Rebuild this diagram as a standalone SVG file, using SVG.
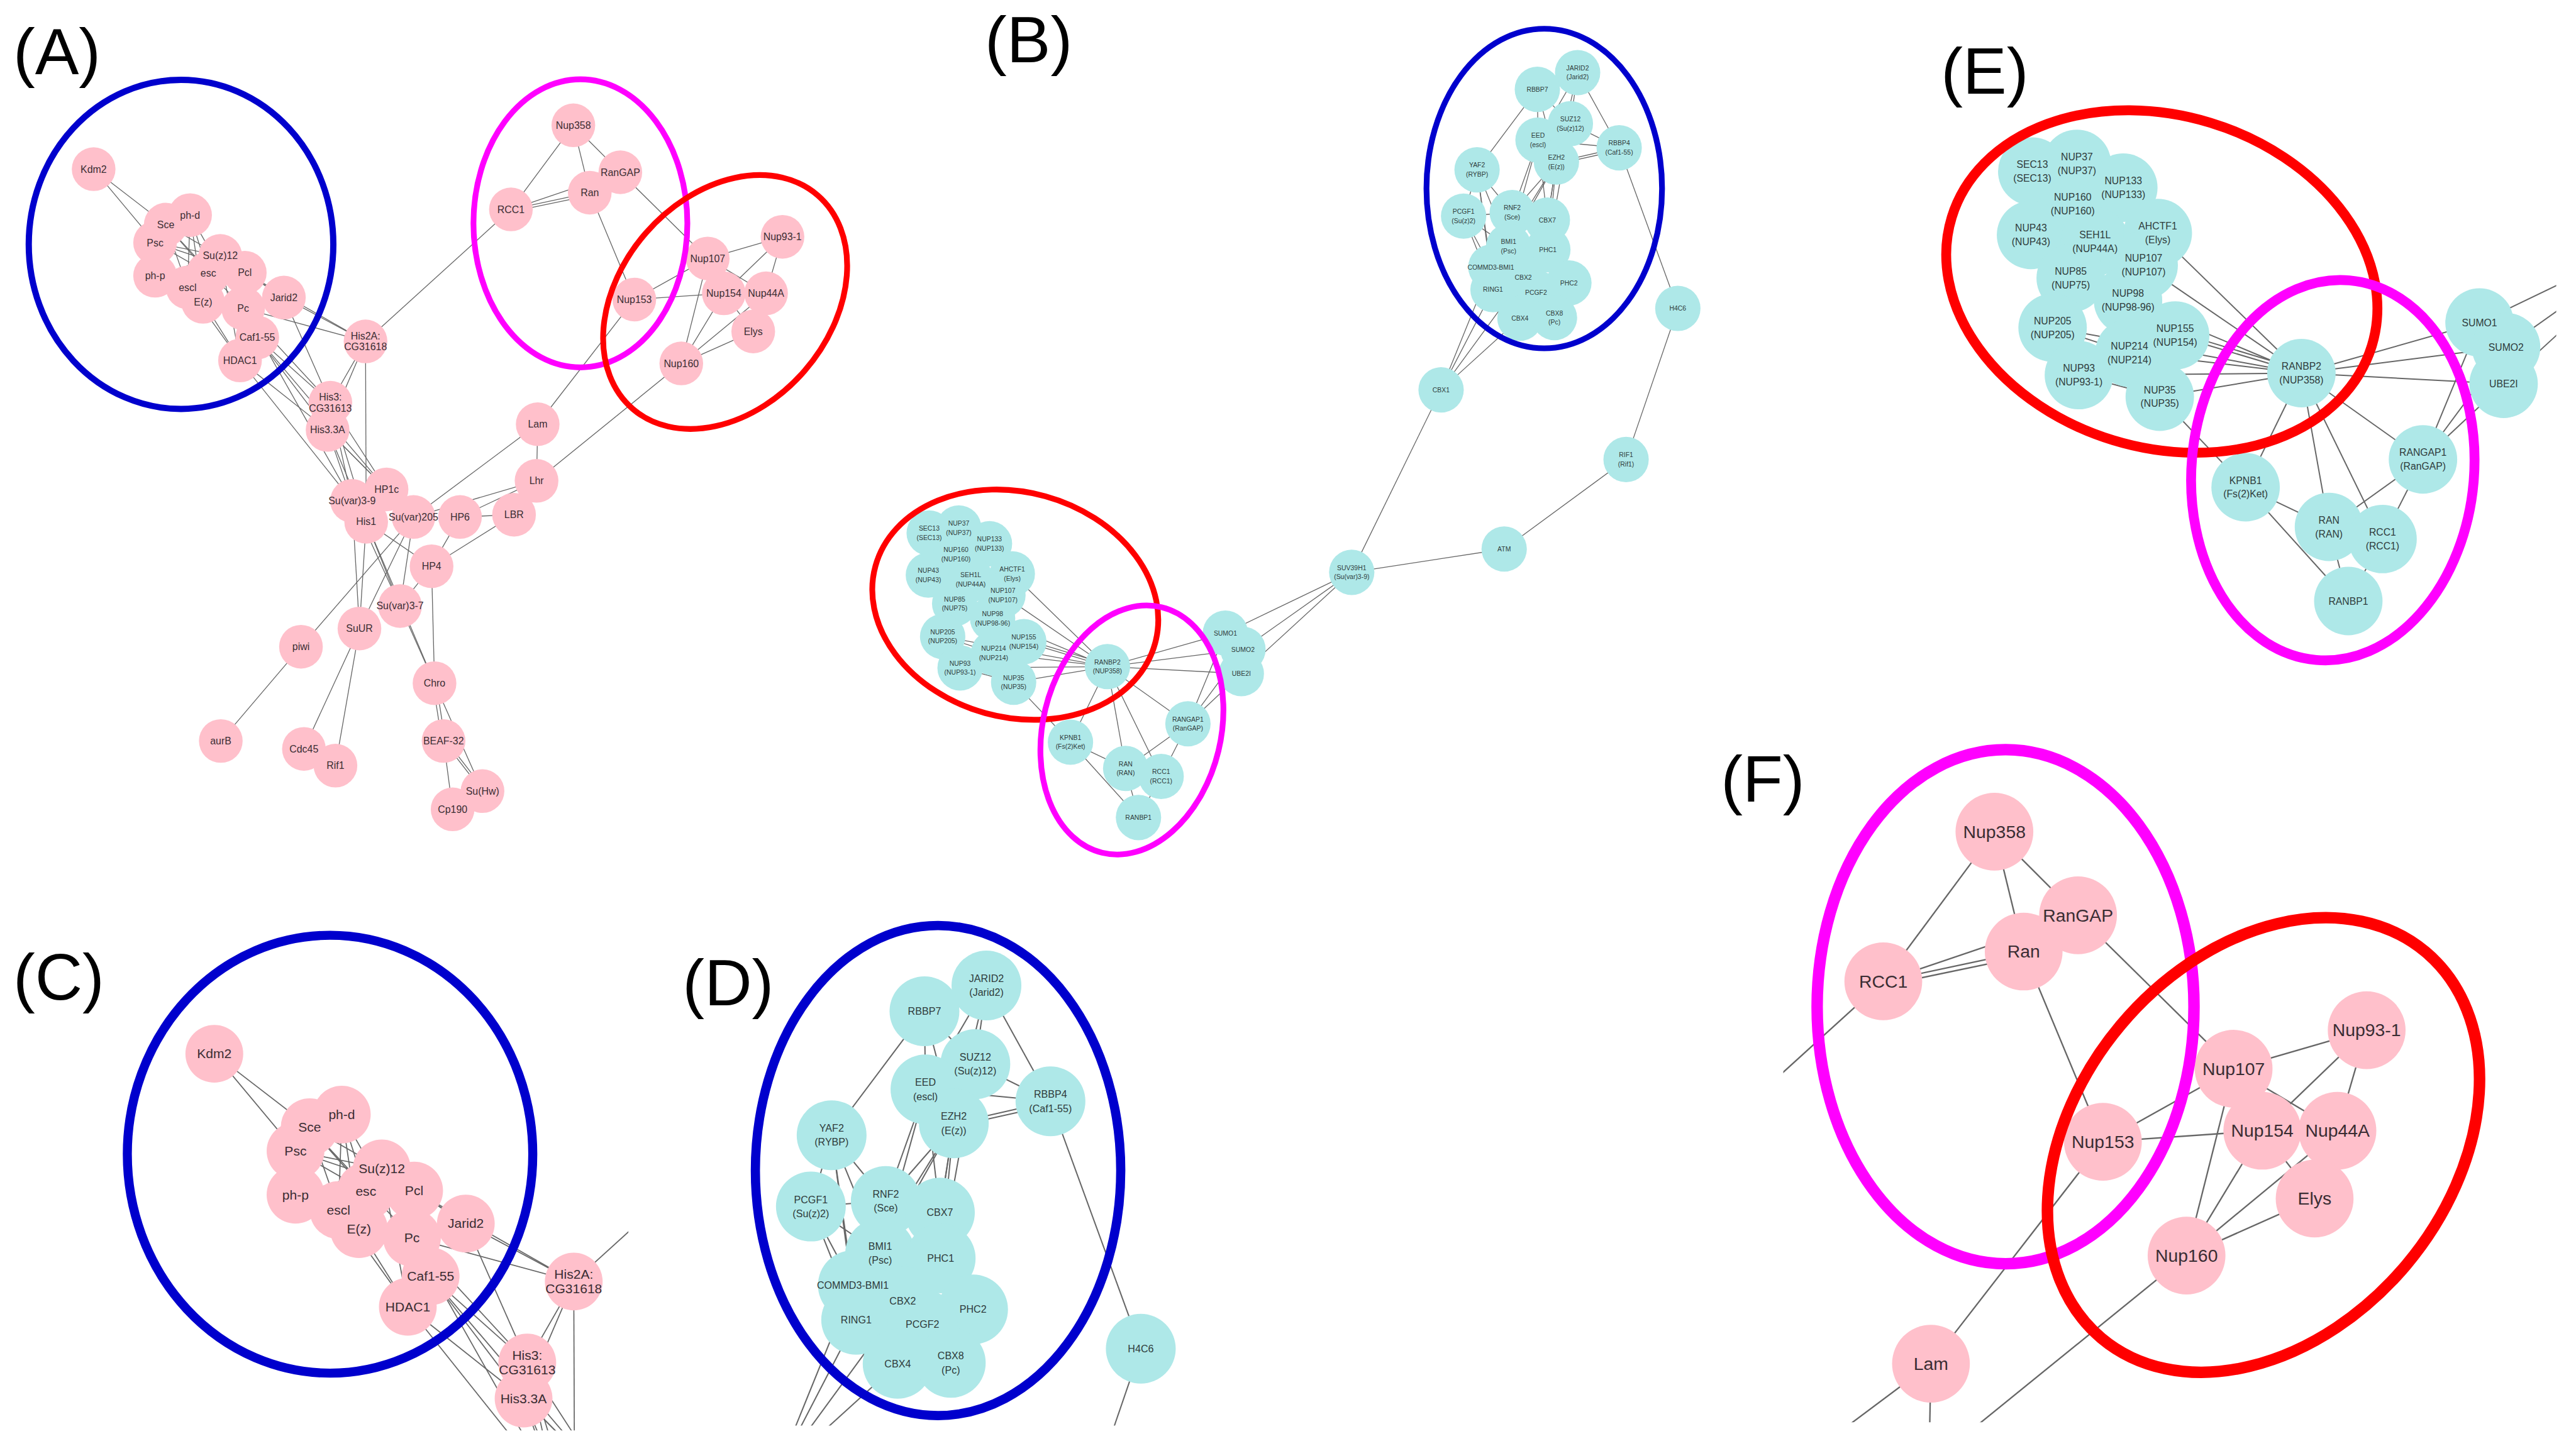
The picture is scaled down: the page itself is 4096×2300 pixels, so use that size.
<svg xmlns="http://www.w3.org/2000/svg" width="4096" height="2300" viewBox="0 0 4096 2300">
<style>
.edges line{stroke:#666;stroke-width:.5;fill:none}
.pk{fill:#FFC0CB}
.cy{fill:#AEE8E8}
.lp{font-family:"Liberation Sans",Arial,sans-serif;font-size:6.1px;fill:#3a2d33;text-anchor:middle}
.lc{font-family:"Liberation Sans",Arial,sans-serif;font-size:4px;fill:#2f3b3b;text-anchor:middle}
.ring{fill:none}
.blue{stroke:#0000CD}
.red{stroke:#FF0000}
.mag{stroke:#FF00FF}
.pl{font-family:"Liberation Sans",Arial,sans-serif;font-size:40px;fill:#000}
</style>
<defs>
<clipPath id="clipC"><rect x="0" y="560" width="382.5" height="311"/></clipPath>
<clipPath id="clipD"><rect x="400" y="555" width="325" height="313"/></clipPath>
<clipPath id="clipE"><rect x="1170" y="55" width="386" height="380"/></clipPath>
<clipPath id="clipF"><rect x="1085.5" y="440" width="482.5" height="426"/></clipPath>
</defs>
<rect width="4096" height="2300" fill="#fff"/>
<g transform="scale(2.6122)">

<!-- ================= PANEL A ================= -->
<g id="panel-A">
<g id="A-edges" class="edges">
<line x1="57" y1="103" x2="100.9" y2="136.8"/>
<line x1="57" y1="103" x2="94.4" y2="147.8"/>
<line x1="100.9" y1="136.8" x2="134.1" y2="155.8"/>
<line x1="100.9" y1="136.8" x2="126.8" y2="166.3"/>
<line x1="100.9" y1="136.8" x2="114.2" y2="175"/>
<line x1="115.7" y1="131" x2="126.8" y2="166.3"/>
<line x1="115.7" y1="131" x2="114.2" y2="175"/>
<line x1="115.7" y1="131" x2="123.6" y2="183.8"/>
<line x1="94.4" y1="147.8" x2="134.1" y2="155.8"/>
<line x1="94.4" y1="147.8" x2="126.8" y2="166.3"/>
<line x1="94.4" y1="147.8" x2="149" y2="166"/>
<line x1="94.4" y1="167.9" x2="134.1" y2="155.8"/>
<line x1="94.4" y1="167.9" x2="149" y2="166"/>
<line x1="100.9" y1="136.8" x2="148" y2="187.7"/>
<line x1="115.7" y1="131" x2="148" y2="187.7"/>
<line x1="149" y1="166" x2="172.8" y2="181.2"/>
<line x1="134.1" y1="155.8" x2="172.8" y2="181.2"/>
<line x1="172.8" y1="181.2" x2="222.5" y2="207.9"/>
<line x1="148" y1="187.7" x2="222.5" y2="207.9"/>
<line x1="149" y1="166" x2="222.5" y2="207.9"/>
<line x1="172.8" y1="181.2" x2="201.1" y2="245.2"/>
<line x1="156.6" y1="205.5" x2="201.1" y2="245.2"/>
<line x1="148" y1="187.7" x2="201.1" y2="245.2"/>
<line x1="156.6" y1="205.5" x2="199.4" y2="261.8"/>
<line x1="146.1" y1="219.5" x2="199.4" y2="261.8"/>
<line x1="123.6" y1="183.8" x2="146.1" y2="219.5"/>
<line x1="114.2" y1="175" x2="146.1" y2="219.5"/>
<line x1="134.1" y1="155.8" x2="146.1" y2="219.5"/>
<line x1="146.1" y1="219.5" x2="214.3" y2="305"/>
<line x1="222.5" y1="207.9" x2="201.1" y2="245.2"/>
<line x1="222.5" y1="207.9" x2="199.4" y2="261.8"/>
<line x1="222.5" y1="207.9" x2="222.9" y2="317.7"/>
<line x1="222.5" y1="207.9" x2="311" y2="127.5"/>
<line x1="156.6" y1="205.5" x2="235.3" y2="298"/>
<line x1="148" y1="187.7" x2="214.3" y2="305"/>
<line x1="199.4" y1="261.8" x2="235.3" y2="298"/>
<line x1="199.4" y1="261.8" x2="214.3" y2="305"/>
<line x1="199.4" y1="261.8" x2="222.9" y2="317.7"/>
<line x1="201.1" y1="245.2" x2="214.3" y2="305"/>
<line x1="201.1" y1="245.2" x2="235.3" y2="298"/>
<line x1="199.4" y1="261.8" x2="251.7" y2="314.8"/>
<line x1="201.1" y1="245.2" x2="222.9" y2="317.7"/>
<line x1="214.3" y1="305" x2="218.8" y2="382.7"/>
<line x1="222.9" y1="317.7" x2="218.8" y2="382.7"/>
<line x1="251.7" y1="314.8" x2="183.2" y2="393.8"/>
<line x1="251.7" y1="314.8" x2="218.8" y2="382.7"/>
<line x1="222.9" y1="317.7" x2="243.5" y2="369"/>
<line x1="214.3" y1="305" x2="243.5" y2="369"/>
<line x1="251.7" y1="314.8" x2="243.5" y2="369"/>
<line x1="222.9" y1="317.7" x2="262.7" y2="344.8"/>
<line x1="262.7" y1="344.8" x2="243.5" y2="369"/>
<line x1="280" y1="314.8" x2="262.7" y2="344.8"/>
<line x1="312.9" y1="313.4" x2="262.7" y2="344.8"/>
<line x1="326.6" y1="292.8" x2="280" y2="314.8"/>
<line x1="326.6" y1="292.8" x2="251.7" y2="314.8"/>
<line x1="312.9" y1="313.4" x2="280" y2="314.8"/>
<line x1="327.3" y1="258.3" x2="251.7" y2="314.8"/>
<line x1="327.3" y1="258.3" x2="326.6" y2="292.8"/>
<line x1="414.7" y1="221.3" x2="326.6" y2="292.8"/>
<line x1="386.1" y1="182.4" x2="327.3" y2="258.3"/>
<line x1="262.7" y1="344.8" x2="264.5" y2="416"/>
<line x1="243.5" y1="369" x2="264.5" y2="416"/>
<line x1="222.9" y1="317.7" x2="264.5" y2="416"/>
<line x1="263.5" y1="416" x2="269" y2="451.2"/>
<line x1="265.5" y1="416" x2="271" y2="451.2"/>
<line x1="264.5" y1="416" x2="293.7" y2="481.7"/>
<line x1="270" y1="451.2" x2="275.5" y2="492.8"/>
<line x1="270" y1="451.2" x2="293.7" y2="481.7"/>
<line x1="271" y1="450.2" x2="294.7" y2="480.7"/>
<line x1="218.8" y1="382.7" x2="185" y2="456"/>
<line x1="218.8" y1="382.7" x2="204.2" y2="466.2"/>
<line x1="183.2" y1="393.8" x2="134.4" y2="451.2"/>
<line x1="349" y1="76.3" x2="311" y2="127.5"/>
<line x1="349" y1="76.3" x2="359" y2="117.3"/>
<line x1="349" y1="76.3" x2="377.6" y2="104.9"/>
<line x1="311" y1="127.5" x2="359" y2="117.3"/>
<line x1="311" y1="129" x2="359" y2="119"/>
<line x1="311" y1="127.5" x2="377.6" y2="104.9"/>
<line x1="377.6" y1="104.9" x2="430.8" y2="157.4"/>
<line x1="359" y1="117.3" x2="386.1" y2="182.4"/>
<line x1="386.1" y1="182.4" x2="430.8" y2="157.4"/>
<line x1="386.1" y1="182.4" x2="440.6" y2="178.6"/>
<line x1="430.8" y1="157.4" x2="476.3" y2="144.2"/>
<line x1="476.3" y1="144.2" x2="440.6" y2="178.6"/>
<line x1="476.3" y1="144.2" x2="466.3" y2="178.6"/>
<line x1="430.8" y1="157.4" x2="414.7" y2="221.3"/>
<line x1="440.6" y1="178.6" x2="414.7" y2="221.3"/>
<line x1="466.3" y1="178.6" x2="414.7" y2="221.3"/>
<line x1="458.5" y1="201.8" x2="414.7" y2="221.3"/>
<line x1="430.8" y1="157.4" x2="466.3" y2="178.6"/>
<line x1="440.6" y1="178.6" x2="458.5" y2="201.8"/>
</g>
<g id="A-nodes">
<g id="A-Kdm2"><circle class="pk" cx="57" cy="103" r="13.3"/></g>
<g id="A-Sce"><circle class="pk" cx="100.9" cy="136.8" r="13.3"/></g>
<g id="A-ph-d"><circle class="pk" cx="115.7" cy="131" r="13.3"/></g>
<g id="A-Psc"><circle class="pk" cx="94.4" cy="147.8" r="13.3"/></g>
<g id="A-Suz12"><circle class="pk" cx="134.1" cy="155.8" r="13.3"/></g>
<g id="A-ph-p"><circle class="pk" cx="94.4" cy="167.9" r="13.3"/></g>
<g id="A-esc"><circle class="pk" cx="126.8" cy="166.3" r="13.3"/></g>
<g id="A-Pcl"><circle class="pk" cx="149" cy="166" r="13.3"/></g>
<g id="A-escl"><circle class="pk" cx="114.2" cy="175" r="13.3"/></g>
<g id="A-Ez"><circle class="pk" cx="123.6" cy="183.8" r="13.3"/></g>
<g id="A-Pc"><circle class="pk" cx="148" cy="187.7" r="13.3"/></g>
<g id="A-Jarid2"><circle class="pk" cx="172.8" cy="181.2" r="13.3"/></g>
<g id="A-Caf1-55"><circle class="pk" cx="156.6" cy="205.5" r="13.3"/></g>
<g id="A-HDAC1"><circle class="pk" cx="146.1" cy="219.5" r="13.3"/></g>
<g id="A-His2A"><circle class="pk" cx="222.5" cy="207.9" r="13.3"/></g>
<g id="A-His3"><circle class="pk" cx="201.1" cy="245.2" r="13.3"/></g>
<g id="A-His3.3A"><circle class="pk" cx="199.4" cy="261.8" r="13.3"/></g>
<g id="A-HP1c"><circle class="pk" cx="235.3" cy="298" r="13.3"/></g>
<g id="A-Suvar3-9"><circle class="pk" cx="214.3" cy="305" r="13.3"/></g>
<g id="A-His1"><circle class="pk" cx="222.9" cy="317.7" r="13.3"/></g>
<g id="A-Suvar205"><circle class="pk" cx="251.7" cy="314.8" r="13.3"/></g>
<g id="A-HP6"><circle class="pk" cx="280" cy="314.8" r="13.3"/></g>
<g id="A-LBR"><circle class="pk" cx="312.9" cy="313.4" r="13.3"/></g>
<g id="A-Lhr"><circle class="pk" cx="326.6" cy="292.8" r="13.3"/></g>
<g id="A-Lam"><circle class="pk" cx="327.3" cy="258.3" r="13.3"/></g>
<g id="A-HP4"><circle class="pk" cx="262.7" cy="344.8" r="13.3"/></g>
<g id="A-Suvar3-7"><circle class="pk" cx="243.5" cy="369" r="13.3"/></g>
<g id="A-SuUR"><circle class="pk" cx="218.8" cy="382.7" r="13.3"/></g>
<g id="A-piwi"><circle class="pk" cx="183.2" cy="393.8" r="13.3"/></g>
<g id="A-Chro"><circle class="pk" cx="264.5" cy="416" r="13.3"/></g>
<g id="A-aurB"><circle class="pk" cx="134.4" cy="451.2" r="13.3"/></g>
<g id="A-Cdc45"><circle class="pk" cx="185" cy="456" r="13.3"/></g>
<g id="A-Rif1"><circle class="pk" cx="204.2" cy="466.2" r="13.3"/></g>
<g id="A-BEAF-32"><circle class="pk" cx="270" cy="451.2" r="13.3"/></g>
<g id="A-SuHw"><circle class="pk" cx="293.7" cy="481.7" r="13.3"/></g>
<g id="A-Cp190"><circle class="pk" cx="275.5" cy="492.8" r="13.3"/></g>
<g id="A-Nup358"><circle class="pk" cx="349" cy="76.3" r="13.3"/></g>
<g id="A-RanGAP"><circle class="pk" cx="377.6" cy="104.9" r="13.3"/></g>
<g id="A-Ran"><circle class="pk" cx="359" cy="117.3" r="13.3"/></g>
<g id="A-RCC1"><circle class="pk" cx="311" cy="127.5" r="13.3"/></g>
<g id="A-Nup93-1"><circle class="pk" cx="476.3" cy="144.2" r="13.3"/></g>
<g id="A-Nup107"><circle class="pk" cx="430.8" cy="157.4" r="13.3"/></g>
<g id="A-Nup153"><circle class="pk" cx="386.1" cy="182.4" r="13.3"/></g>
<g id="A-Nup154"><circle class="pk" cx="440.6" cy="178.6" r="13.3"/></g>
<g id="A-Nup44A"><circle class="pk" cx="466.3" cy="178.6" r="13.3"/></g>
<g id="A-Elys"><circle class="pk" cx="458.5" cy="201.8" r="13.3"/></g>
<g id="A-Nup160"><circle class="pk" cx="414.7" cy="221.3" r="13.3"/></g>
</g>
<g id="A-labels">
<text class="lp" x="57" y="105.1">Kdm2</text>
<text class="lp" x="100.9" y="138.9">Sce</text>
<text class="lp" x="115.7" y="133.1">ph-d</text>
<text class="lp" x="94.4" y="149.9">Psc</text>
<text class="lp" x="134.1" y="157.9">Su(z)12</text>
<text class="lp" x="94.4" y="170">ph-p</text>
<text class="lp" x="126.8" y="168.4">esc</text>
<text class="lp" x="149" y="168.1">Pcl</text>
<text class="lp" x="114.2" y="177.1">escl</text>
<text class="lp" x="123.6" y="185.9">E(z)</text>
<text class="lp" x="148" y="189.8">Pc</text>
<text class="lp" x="172.8" y="183.3">Jarid2</text>
<text class="lp" x="156.6" y="207.6">Caf1-55</text>
<text class="lp" x="146.1" y="221.6">HDAC1</text>
<text class="lp" x="222.5" y="206.65">His2A:<tspan x="222.5" dy="6.7">CG31618</tspan></text>
<text class="lp" x="201.1" y="243.95">His3:<tspan x="201.1" dy="6.7">CG31613</tspan></text>
<text class="lp" x="199.4" y="263.9">His3.3A</text>
<text class="lp" x="235.3" y="300.1">HP1c</text>
<text class="lp" x="214.3" y="307.1">Su(var)3-9</text>
<text class="lp" x="222.9" y="319.8">His1</text>
<text class="lp" x="251.7" y="316.9">Su(var)205</text>
<text class="lp" x="280" y="316.9">HP6</text>
<text class="lp" x="312.9" y="315.5">LBR</text>
<text class="lp" x="326.6" y="294.9">Lhr</text>
<text class="lp" x="327.3" y="260.4">Lam</text>
<text class="lp" x="262.7" y="346.9">HP4</text>
<text class="lp" x="243.5" y="371.1">Su(var)3-7</text>
<text class="lp" x="218.8" y="384.8">SuUR</text>
<text class="lp" x="183.2" y="395.9">piwi</text>
<text class="lp" x="264.5" y="418.1">Chro</text>
<text class="lp" x="134.4" y="453.3">aurB</text>
<text class="lp" x="185" y="458.1">Cdc45</text>
<text class="lp" x="204.2" y="468.3">Rif1</text>
<text class="lp" x="270" y="453.3">BEAF-32</text>
<text class="lp" x="293.7" y="483.8">Su(Hw)</text>
<text class="lp" x="275.5" y="494.9">Cp190</text>
<text class="lp" x="349" y="78.4">Nup358</text>
<text class="lp" x="377.6" y="107">RanGAP</text>
<text class="lp" x="359" y="119.4">Ran</text>
<text class="lp" x="311" y="129.6">RCC1</text>
<text class="lp" x="476.3" y="146.3">Nup93-1</text>
<text class="lp" x="430.8" y="159.5">Nup107</text>
<text class="lp" x="386.1" y="184.5">Nup153</text>
<text class="lp" x="440.6" y="180.7">Nup154</text>
<text class="lp" x="466.3" y="180.7">Nup44A</text>
<text class="lp" x="458.5" y="203.9">Elys</text>
<text class="lp" x="414.7" y="223.4">Nup160</text>
</g>
</g>

<!-- ================= PANEL B ================= -->
<g id="panel-B">
<g id="B-edges" class="edges">
<line x1="960.3" y1="44.2" x2="985.6" y2="90"/>
<line x1="960.3" y1="44.2" x2="955.9" y2="75.3"/>
<line x1="960.3" y1="44.2" x2="936.2" y2="85.3"/>
<line x1="960.3" y1="44.2" x2="947.4" y2="98.7"/>
<line x1="935.8" y1="54.4" x2="936.2" y2="85.3"/>
<line x1="935.8" y1="54.4" x2="947.4" y2="98.7"/>
<line x1="935.8" y1="54.4" x2="955.9" y2="75.3"/>
<line x1="935.8" y1="54.4" x2="899.1" y2="103.4"/>
<line x1="955.9" y1="75.3" x2="985.6" y2="90"/>
<line x1="936.2" y1="85.3" x2="985.6" y2="90"/>
<line x1="947.4" y1="98.7" x2="985.6" y2="90"/>
<line x1="947.4" y1="100" x2="985.6" y2="91.5"/>
<line x1="947.4" y1="98.7" x2="920.5" y2="129.4"/>
<line x1="947.4" y1="98.7" x2="941.9" y2="134"/>
<line x1="947.4" y1="98.7" x2="918.3" y2="150.1"/>
<line x1="947.4" y1="98.7" x2="942.2" y2="152.1"/>
<line x1="947.4" y1="98.7" x2="907.5" y2="162.7"/>
<line x1="936.2" y1="85.3" x2="941.9" y2="134"/>
<line x1="936.2" y1="85.3" x2="920.5" y2="129.4"/>
<line x1="955.9" y1="75.3" x2="942.2" y2="152.1"/>
<line x1="947.4" y1="98.7" x2="935" y2="178.1"/>
<line x1="936.2" y1="85.3" x2="918.3" y2="150.1"/>
<line x1="899.1" y1="103.4" x2="890.9" y2="131.6"/>
<line x1="899.1" y1="103.4" x2="920.5" y2="129.4"/>
<line x1="899.1" y1="103.4" x2="918.3" y2="150.1"/>
<line x1="899.1" y1="103.4" x2="908.8" y2="176.4"/>
<line x1="899.1" y1="103.4" x2="907.5" y2="162.7"/>
<line x1="890.9" y1="131.6" x2="920.5" y2="129.4"/>
<line x1="890.9" y1="131.6" x2="918.3" y2="150.1"/>
<line x1="890.9" y1="131.6" x2="908.8" y2="176.4"/>
<line x1="890.9" y1="131.6" x2="907.5" y2="162.7"/>
<line x1="985.6" y1="90" x2="1021.3" y2="187.8"/>
<line x1="877.2" y1="237.4" x2="908.8" y2="176.4"/>
<line x1="877.2" y1="237.4" x2="907.5" y2="162.7"/>
<line x1="877.2" y1="237.4" x2="925.2" y2="193.8"/>
<line x1="877.2" y1="237.4" x2="927.2" y2="169"/>
<line x1="1021.3" y1="187.8" x2="989.8" y2="279.8"/>
<line x1="989.8" y1="279.8" x2="915.6" y2="334.3"/>
<line x1="915.6" y1="334.3" x2="822.8" y2="348.5"/>
<line x1="877.2" y1="237.4" x2="822.8" y2="348.5"/>
<line x1="822.8" y1="348.5" x2="745.9" y2="385.5"/>
<line x1="822.8" y1="348.5" x2="756.6" y2="395.4"/>
<line x1="822.8" y1="348.5" x2="755.6" y2="410.2"/>
<line x1="745.9" y1="385.5" x2="674.1" y2="405.9"/>
<line x1="756.6" y1="395.4" x2="674.1" y2="405.9"/>
<line x1="755.6" y1="410.2" x2="674.1" y2="405.9"/>
<line x1="745.9" y1="385.5" x2="723.1" y2="440.7"/>
<line x1="756.6" y1="395.4" x2="723.1" y2="440.7"/>
<line x1="755.6" y1="410.2" x2="723.1" y2="440.7"/>
<line x1="674.1" y1="405.9" x2="723.1" y2="440.7"/>
<line x1="674.1" y1="405.9" x2="685.2" y2="467.9"/>
<line x1="674.1" y1="405.9" x2="706.8" y2="472.8"/>
<line x1="674.1" y1="405.9" x2="651.6" y2="451.9"/>
<line x1="723.1" y1="440.7" x2="685.2" y2="467.9"/>
<line x1="723.1" y1="440.7" x2="706.8" y2="472.8"/>
<line x1="651.6" y1="451.9" x2="685.2" y2="467.9"/>
<line x1="651.6" y1="451.9" x2="693" y2="497.8"/>
<line x1="685.2" y1="467.9" x2="693" y2="497.8"/>
<line x1="706.8" y1="472.8" x2="693" y2="497.8"/>
<line x1="617" y1="415.4" x2="651.6" y2="451.9"/>
<line x1="674.1" y1="405.9" x2="616.2" y2="349.4"/>
<line x1="674.1" y1="405.9" x2="610.5" y2="362.4"/>
<line x1="674.1" y1="405.9" x2="604.2" y2="376.6"/>
<line x1="674.1" y1="405.9" x2="623.2" y2="390.7"/>
<line x1="674.1" y1="404.6" x2="623.2" y2="389.2"/>
<line x1="674.1" y1="405.9" x2="604.8" y2="397.7"/>
<line x1="674.1" y1="405.9" x2="584.4" y2="406.7"/>
<line x1="674.1" y1="405.9" x2="617" y2="415.4"/>
<line x1="674.1" y1="405.9" x2="573.8" y2="387.6"/>
<line x1="573.8" y1="387.6" x2="584.4" y2="406.7"/>
<line x1="573.8" y1="387.6" x2="604.8" y2="397.7"/>
<line x1="581.1" y1="367.6" x2="573.8" y2="387.6"/>
<line x1="584.4" y1="406.7" x2="617" y2="415.4"/>
<line x1="590.9" y1="352.9" x2="616.2" y2="349.4"/>
<line x1="584.4" y1="406.7" x2="604.8" y2="397.7"/>
</g>
<g id="B-nodes">
<g id="B-JARID2"><circle class="cy" cx="960.3" cy="44.2" r="13.8"/></g>
<g id="B-RBBP7"><circle class="cy" cx="935.8" cy="54.4" r="13.8"/></g>
<g id="B-SUZ12"><circle class="cy" cx="955.9" cy="75.3" r="13.8"/></g>
<g id="B-EED"><circle class="cy" cx="936.2" cy="85.3" r="13.8"/></g>
<g id="B-RBBP4"><circle class="cy" cx="985.6" cy="90" r="13.8"/></g>
<g id="B-EZH2"><circle class="cy" cx="947.4" cy="98.7" r="13.8"/></g>
<g id="B-YAF2"><circle class="cy" cx="899.1" cy="103.4" r="13.8"/></g>
<g id="B-PCGF1"><circle class="cy" cx="890.9" cy="131.6" r="13.8"/></g>
<g id="B-RNF2"><circle class="cy" cx="920.5" cy="129.4" r="13.8"/></g>
<g id="B-CBX7"><circle class="cy" cx="941.9" cy="134" r="13.8"/></g>
<g id="B-BMI1"><circle class="cy" cx="918.3" cy="150.1" r="13.8"/></g>
<g id="B-PHC1"><circle class="cy" cx="942.2" cy="152.1" r="13.8"/></g>
<g id="B-COMMD3-BMI1"><circle class="cy" cx="907.5" cy="162.7" r="13.8"/></g>
<g id="B-CBX2"><circle class="cy" cx="927.2" cy="169" r="13.8"/></g>
<g id="B-PHC2"><circle class="cy" cx="955" cy="172.3" r="13.8"/></g>
<g id="B-RING1"><circle class="cy" cx="908.8" cy="176.4" r="13.8"/></g>
<g id="B-PCGF2"><circle class="cy" cx="935" cy="178.1" r="13.8"/></g>
<g id="B-CBX4"><circle class="cy" cx="925.2" cy="193.8" r="13.8"/></g>
<g id="B-CBX8"><circle class="cy" cx="946.2" cy="193.4" r="13.8"/></g>
<g id="B-H4C6"><circle class="cy" cx="1021.3" cy="187.8" r="13.8"/></g>
<g id="B-CBX1"><circle class="cy" cx="877.2" cy="237.4" r="13.8"/></g>
<g id="B-RIF1"><circle class="cy" cx="989.8" cy="279.8" r="13.8"/></g>
<g id="B-ATM"><circle class="cy" cx="915.6" cy="334.3" r="13.8"/></g>
<g id="B-SUV39H1"><circle class="cy" cx="822.8" cy="348.5" r="13.8"/></g>
<g id="B-SEC13"><circle class="cy" cx="565.6" cy="324.6" r="13.8"/></g>
<g id="B-NUP37"><circle class="cy" cx="583.6" cy="321.5" r="13.8"/></g>
<g id="B-NUP133"><circle class="cy" cx="602.3" cy="331.1" r="13.8"/></g>
<g id="B-NUP160"><circle class="cy" cx="581.9" cy="337.6" r="13.8"/></g>
<g id="B-NUP43"><circle class="cy" cx="565.1" cy="350.2" r="13.8"/></g>
<g id="B-SEH1L"><circle class="cy" cx="590.9" cy="352.9" r="13.8"/></g>
<g id="B-AHCTF1"><circle class="cy" cx="616.2" cy="349.4" r="13.8"/></g>
<g id="B-NUP107"><circle class="cy" cx="610.5" cy="362.4" r="13.8"/></g>
<g id="B-NUP85"><circle class="cy" cx="581.1" cy="367.6" r="13.8"/></g>
<g id="B-NUP98"><circle class="cy" cx="604.2" cy="376.6" r="13.8"/></g>
<g id="B-NUP205"><circle class="cy" cx="573.8" cy="387.6" r="13.8"/></g>
<g id="B-NUP155"><circle class="cy" cx="623.2" cy="390.7" r="13.8"/></g>
<g id="B-NUP214"><circle class="cy" cx="604.8" cy="397.7" r="13.8"/></g>
<g id="B-NUP93"><circle class="cy" cx="584.4" cy="406.7" r="13.8"/></g>
<g id="B-NUP35"><circle class="cy" cx="617" cy="415.4" r="13.8"/></g>
<g id="B-RANBP2"><circle class="cy" cx="674.1" cy="405.9" r="13.8"/></g>
<g id="B-SUMO1"><circle class="cy" cx="745.9" cy="385.5" r="13.8"/></g>
<g id="B-SUMO2"><circle class="cy" cx="756.6" cy="395.4" r="13.8"/></g>
<g id="B-UBE2I"><circle class="cy" cx="755.6" cy="410.2" r="13.8"/></g>
<g id="B-RANGAP1"><circle class="cy" cx="723.1" cy="440.7" r="13.8"/></g>
<g id="B-KPNB1"><circle class="cy" cx="651.6" cy="451.9" r="13.8"/></g>
<g id="B-RAN"><circle class="cy" cx="685.2" cy="467.9" r="13.8"/></g>
<g id="B-RCC1"><circle class="cy" cx="706.8" cy="472.8" r="13.8"/></g>
<g id="B-RANBP1"><circle class="cy" cx="693" cy="497.8" r="13.8"/></g>
</g>
<g id="B-labels">
<text class="lc" x="960.3" y="42.82">JARID2<tspan x="960.3" dy="5.56">(Jarid2)</tspan></text>
<text class="lc" x="935.8" y="55.8">RBBP7</text>
<text class="lc" x="955.9" y="73.92">SUZ12<tspan x="955.9" dy="5.56">(Su(z)12)</tspan></text>
<text class="lc" x="936.2" y="83.92">EED<tspan x="936.2" dy="5.56">(escl)</tspan></text>
<text class="lc" x="985.6" y="88.62">RBBP4<tspan x="985.6" dy="5.56">(Caf1-55)</tspan></text>
<text class="lc" x="947.4" y="97.32">EZH2<tspan x="947.4" dy="5.56">(E(z))</tspan></text>
<text class="lc" x="899.1" y="102.02">YAF2<tspan x="899.1" dy="5.56">(RYBP)</tspan></text>
<text class="lc" x="890.9" y="130.22">PCGF1<tspan x="890.9" dy="5.56">(Su(z)2)</tspan></text>
<text class="lc" x="920.5" y="128.02">RNF2<tspan x="920.5" dy="5.56">(Sce)</tspan></text>
<text class="lc" x="941.9" y="135.4">CBX7</text>
<text class="lc" x="918.3" y="148.72">BMI1<tspan x="918.3" dy="5.56">(Psc)</tspan></text>
<text class="lc" x="942.2" y="153.5">PHC1</text>
<text class="lc" x="907.5" y="164.1">COMMD3-BMI1</text>
<text class="lc" x="927.2" y="170.4">CBX2</text>
<text class="lc" x="955" y="173.7">PHC2</text>
<text class="lc" x="908.8" y="177.8">RING1</text>
<text class="lc" x="935" y="179.5">PCGF2</text>
<text class="lc" x="925.2" y="195.2">CBX4</text>
<text class="lc" x="946.2" y="192.02">CBX8<tspan x="946.2" dy="5.56">(Pc)</tspan></text>
<text class="lc" x="1021.3" y="189.2">H4C6</text>
<text class="lc" x="877.2" y="238.8">CBX1</text>
<text class="lc" x="989.8" y="278.42">RIF1<tspan x="989.8" dy="5.56">(Rif1)</tspan></text>
<text class="lc" x="915.6" y="335.7">ATM</text>
<text class="lc" x="822.8" y="347.12">SUV39H1<tspan x="822.8" dy="5.56">(Su(var)3-9)</tspan></text>
<text class="lc" x="565.6" y="323.22">SEC13<tspan x="565.6" dy="5.56">(SEC13)</tspan></text>
<text class="lc" x="583.6" y="320.12">NUP37<tspan x="583.6" dy="5.56">(NUP37)</tspan></text>
<text class="lc" x="602.3" y="329.72">NUP133<tspan x="602.3" dy="5.56">(NUP133)</tspan></text>
<text class="lc" x="581.9" y="336.22">NUP160<tspan x="581.9" dy="5.56">(NUP160)</tspan></text>
<text class="lc" x="565.1" y="348.82">NUP43<tspan x="565.1" dy="5.56">(NUP43)</tspan></text>
<text class="lc" x="590.9" y="351.52">SEH1L<tspan x="590.9" dy="5.56">(NUP44A)</tspan></text>
<text class="lc" x="616.2" y="348.02">AHCTF1<tspan x="616.2" dy="5.56">(Elys)</tspan></text>
<text class="lc" x="610.5" y="361.02">NUP107<tspan x="610.5" dy="5.56">(NUP107)</tspan></text>
<text class="lc" x="581.1" y="366.22">NUP85<tspan x="581.1" dy="5.56">(NUP75)</tspan></text>
<text class="lc" x="604.2" y="375.22">NUP98<tspan x="604.2" dy="5.56">(NUP98-96)</tspan></text>
<text class="lc" x="573.8" y="386.22">NUP205<tspan x="573.8" dy="5.56">(NUP205)</tspan></text>
<text class="lc" x="623.2" y="389.32">NUP155<tspan x="623.2" dy="5.56">(NUP154)</tspan></text>
<text class="lc" x="604.8" y="396.32">NUP214<tspan x="604.8" dy="5.56">(NUP214)</tspan></text>
<text class="lc" x="584.4" y="405.32">NUP93<tspan x="584.4" dy="5.56">(NUP93-1)</tspan></text>
<text class="lc" x="617" y="414.02">NUP35<tspan x="617" dy="5.56">(NUP35)</tspan></text>
<text class="lc" x="674.1" y="404.52">RANBP2<tspan x="674.1" dy="5.56">(NUP358)</tspan></text>
<text class="lc" x="745.9" y="386.9">SUMO1</text>
<text class="lc" x="756.6" y="396.8">SUMO2</text>
<text class="lc" x="755.6" y="411.6">UBE2I</text>
<text class="lc" x="723.1" y="439.32">RANGAP1<tspan x="723.1" dy="5.56">(RanGAP)</tspan></text>
<text class="lc" x="651.6" y="450.52">KPNB1<tspan x="651.6" dy="5.56">(Fs(2)Ket)</tspan></text>
<text class="lc" x="685.2" y="466.52">RAN<tspan x="685.2" dy="5.56">(RAN)</tspan></text>
<text class="lc" x="706.8" y="471.42">RCC1<tspan x="706.8" dy="5.56">(RCC1)</tspan></text>
<text class="lc" x="693" y="499.2">RANBP1</text>
</g>
</g>

<!-- ================= PANEL C (zoom of A cluster) ================= -->
<g id="panel-C" clip-path="url(#clipC)">
<g transform="translate(55.1 505.5) scale(1.322)">
<g id="C-edges" class="edges">
<line x1="57" y1="103" x2="100.9" y2="136.8"/>
<line x1="57" y1="103" x2="94.4" y2="147.8"/>
<line x1="100.9" y1="136.8" x2="134.1" y2="155.8"/>
<line x1="100.9" y1="136.8" x2="126.8" y2="166.3"/>
<line x1="100.9" y1="136.8" x2="114.2" y2="175"/>
<line x1="115.7" y1="131" x2="126.8" y2="166.3"/>
<line x1="115.7" y1="131" x2="114.2" y2="175"/>
<line x1="115.7" y1="131" x2="123.6" y2="183.8"/>
<line x1="94.4" y1="147.8" x2="134.1" y2="155.8"/>
<line x1="94.4" y1="147.8" x2="126.8" y2="166.3"/>
<line x1="94.4" y1="147.8" x2="149" y2="166"/>
<line x1="94.4" y1="167.9" x2="134.1" y2="155.8"/>
<line x1="94.4" y1="167.9" x2="149" y2="166"/>
<line x1="100.9" y1="136.8" x2="148" y2="187.7"/>
<line x1="115.7" y1="131" x2="148" y2="187.7"/>
<line x1="149" y1="166" x2="172.8" y2="181.2"/>
<line x1="134.1" y1="155.8" x2="172.8" y2="181.2"/>
<line x1="172.8" y1="181.2" x2="222.5" y2="207.9"/>
<line x1="148" y1="187.7" x2="222.5" y2="207.9"/>
<line x1="149" y1="166" x2="222.5" y2="207.9"/>
<line x1="172.8" y1="181.2" x2="201.1" y2="245.2"/>
<line x1="156.6" y1="205.5" x2="201.1" y2="245.2"/>
<line x1="148" y1="187.7" x2="201.1" y2="245.2"/>
<line x1="156.6" y1="205.5" x2="199.4" y2="261.8"/>
<line x1="146.1" y1="219.5" x2="199.4" y2="261.8"/>
<line x1="123.6" y1="183.8" x2="146.1" y2="219.5"/>
<line x1="114.2" y1="175" x2="146.1" y2="219.5"/>
<line x1="134.1" y1="155.8" x2="146.1" y2="219.5"/>
<line x1="146.1" y1="219.5" x2="214.3" y2="305"/>
<line x1="222.5" y1="207.9" x2="201.1" y2="245.2"/>
<line x1="222.5" y1="207.9" x2="199.4" y2="261.8"/>
<line x1="222.5" y1="207.9" x2="222.9" y2="317.7"/>
<line x1="222.5" y1="207.9" x2="311" y2="127.5"/>
<line x1="156.6" y1="205.5" x2="235.3" y2="298"/>
<line x1="148" y1="187.7" x2="214.3" y2="305"/>
<line x1="199.4" y1="261.8" x2="235.3" y2="298"/>
<line x1="199.4" y1="261.8" x2="214.3" y2="305"/>
<line x1="199.4" y1="261.8" x2="222.9" y2="317.7"/>
<line x1="201.1" y1="245.2" x2="214.3" y2="305"/>
<line x1="201.1" y1="245.2" x2="235.3" y2="298"/>
<line x1="199.4" y1="261.8" x2="251.7" y2="314.8"/>
<line x1="201.1" y1="245.2" x2="222.9" y2="317.7"/>
</g>
<g id="C-nodes">
<g id="C-Kdm2"><circle class="pk" cx="57" cy="103" r="13.3"/></g>
<g id="C-Sce"><circle class="pk" cx="100.9" cy="136.8" r="13.3"/></g>
<g id="C-ph-d"><circle class="pk" cx="115.7" cy="131" r="13.3"/></g>
<g id="C-Psc"><circle class="pk" cx="94.4" cy="147.8" r="13.3"/></g>
<g id="C-Suz12"><circle class="pk" cx="134.1" cy="155.8" r="13.3"/></g>
<g id="C-ph-p"><circle class="pk" cx="94.4" cy="167.9" r="13.3"/></g>
<g id="C-esc"><circle class="pk" cx="126.8" cy="166.3" r="13.3"/></g>
<g id="C-Pcl"><circle class="pk" cx="149" cy="166" r="13.3"/></g>
<g id="C-escl"><circle class="pk" cx="114.2" cy="175" r="13.3"/></g>
<g id="C-Ez"><circle class="pk" cx="123.6" cy="183.8" r="13.3"/></g>
<g id="C-Pc"><circle class="pk" cx="148" cy="187.7" r="13.3"/></g>
<g id="C-Jarid2"><circle class="pk" cx="172.8" cy="181.2" r="13.3"/></g>
<g id="C-Caf1-55"><circle class="pk" cx="156.6" cy="205.5" r="13.3"/></g>
<g id="C-HDAC1"><circle class="pk" cx="146.1" cy="219.5" r="13.3"/></g>
<g id="C-His2A"><circle class="pk" cx="222.5" cy="207.9" r="13.3"/></g>
<g id="C-His3"><circle class="pk" cx="201.1" cy="245.2" r="13.3"/></g>
<g id="C-His3.3A"><circle class="pk" cx="199.4" cy="261.8" r="13.3"/></g>
</g>
<g id="C-labels">
<text class="lp" x="57" y="105.1">Kdm2</text>
<text class="lp" x="100.9" y="138.9">Sce</text>
<text class="lp" x="115.7" y="133.1">ph-d</text>
<text class="lp" x="94.4" y="149.9">Psc</text>
<text class="lp" x="134.1" y="157.9">Su(z)12</text>
<text class="lp" x="94.4" y="170">ph-p</text>
<text class="lp" x="126.8" y="168.4">esc</text>
<text class="lp" x="149" y="168.1">Pcl</text>
<text class="lp" x="114.2" y="177.1">escl</text>
<text class="lp" x="123.6" y="185.9">E(z)</text>
<text class="lp" x="148" y="189.8">Pc</text>
<text class="lp" x="172.8" y="183.3">Jarid2</text>
<text class="lp" x="156.6" y="207.6">Caf1-55</text>
<text class="lp" x="146.1" y="221.6">HDAC1</text>
<text class="lp" x="222.5" y="206.65">His2A:<tspan x="222.5" dy="6.7">CG31618</tspan></text>
<text class="lp" x="201.1" y="243.95">His3:<tspan x="201.1" dy="6.7">CG31613</tspan></text>
<text class="lp" x="199.4" y="263.9">His3.3A</text>
</g>
</g>
</g>

<!-- ================= PANEL D (zoom of B PRC cluster) ================= -->
<g id="panel-D" clip-path="url(#clipD)">
<g transform="translate(-878.4 532) scale(1.54)">
<g id="D-edges" class="edges">
<line x1="960.3" y1="44.2" x2="985.6" y2="90"/>
<line x1="960.3" y1="44.2" x2="955.9" y2="75.3"/>
<line x1="960.3" y1="44.2" x2="936.2" y2="85.3"/>
<line x1="960.3" y1="44.2" x2="947.4" y2="98.7"/>
<line x1="935.8" y1="54.4" x2="936.2" y2="85.3"/>
<line x1="935.8" y1="54.4" x2="947.4" y2="98.7"/>
<line x1="935.8" y1="54.4" x2="955.9" y2="75.3"/>
<line x1="935.8" y1="54.4" x2="899.1" y2="103.4"/>
<line x1="955.9" y1="75.3" x2="985.6" y2="90"/>
<line x1="936.2" y1="85.3" x2="985.6" y2="90"/>
<line x1="947.4" y1="98.7" x2="985.6" y2="90"/>
<line x1="947.4" y1="100" x2="985.6" y2="91.5"/>
<line x1="947.4" y1="98.7" x2="920.5" y2="129.4"/>
<line x1="947.4" y1="98.7" x2="941.9" y2="134"/>
<line x1="947.4" y1="98.7" x2="918.3" y2="150.1"/>
<line x1="947.4" y1="98.7" x2="942.2" y2="152.1"/>
<line x1="947.4" y1="98.7" x2="907.5" y2="162.7"/>
<line x1="936.2" y1="85.3" x2="941.9" y2="134"/>
<line x1="936.2" y1="85.3" x2="920.5" y2="129.4"/>
<line x1="955.9" y1="75.3" x2="942.2" y2="152.1"/>
<line x1="947.4" y1="98.7" x2="935" y2="178.1"/>
<line x1="936.2" y1="85.3" x2="918.3" y2="150.1"/>
<line x1="899.1" y1="103.4" x2="890.9" y2="131.6"/>
<line x1="899.1" y1="103.4" x2="920.5" y2="129.4"/>
<line x1="899.1" y1="103.4" x2="918.3" y2="150.1"/>
<line x1="899.1" y1="103.4" x2="908.8" y2="176.4"/>
<line x1="899.1" y1="103.4" x2="907.5" y2="162.7"/>
<line x1="890.9" y1="131.6" x2="920.5" y2="129.4"/>
<line x1="890.9" y1="131.6" x2="918.3" y2="150.1"/>
<line x1="890.9" y1="131.6" x2="908.8" y2="176.4"/>
<line x1="890.9" y1="131.6" x2="907.5" y2="162.7"/>
<line x1="985.6" y1="90" x2="1021.3" y2="187.8"/>
<line x1="877.2" y1="237.4" x2="908.8" y2="176.4"/>
<line x1="877.2" y1="237.4" x2="907.5" y2="162.7"/>
<line x1="877.2" y1="237.4" x2="925.2" y2="193.8"/>
<line x1="877.2" y1="237.4" x2="927.2" y2="169"/>
<line x1="1021.3" y1="187.8" x2="989.8" y2="279.8"/>
</g>
<g id="D-nodes">
<g id="D-JARID2"><circle class="cy" cx="960.3" cy="44.2" r="13.8"/></g>
<g id="D-RBBP7"><circle class="cy" cx="935.8" cy="54.4" r="13.8"/></g>
<g id="D-SUZ12"><circle class="cy" cx="955.9" cy="75.3" r="13.8"/></g>
<g id="D-EED"><circle class="cy" cx="936.2" cy="85.3" r="13.8"/></g>
<g id="D-RBBP4"><circle class="cy" cx="985.6" cy="90" r="13.8"/></g>
<g id="D-EZH2"><circle class="cy" cx="947.4" cy="98.7" r="13.8"/></g>
<g id="D-YAF2"><circle class="cy" cx="899.1" cy="103.4" r="13.8"/></g>
<g id="D-PCGF1"><circle class="cy" cx="890.9" cy="131.6" r="13.8"/></g>
<g id="D-RNF2"><circle class="cy" cx="920.5" cy="129.4" r="13.8"/></g>
<g id="D-CBX7"><circle class="cy" cx="941.9" cy="134" r="13.8"/></g>
<g id="D-BMI1"><circle class="cy" cx="918.3" cy="150.1" r="13.8"/></g>
<g id="D-PHC1"><circle class="cy" cx="942.2" cy="152.1" r="13.8"/></g>
<g id="D-COMMD3-BMI1"><circle class="cy" cx="907.5" cy="162.7" r="13.8"/></g>
<g id="D-CBX2"><circle class="cy" cx="927.2" cy="169" r="13.8"/></g>
<g id="D-PHC2"><circle class="cy" cx="955" cy="172.3" r="13.8"/></g>
<g id="D-RING1"><circle class="cy" cx="908.8" cy="176.4" r="13.8"/></g>
<g id="D-PCGF2"><circle class="cy" cx="935" cy="178.1" r="13.8"/></g>
<g id="D-CBX4"><circle class="cy" cx="925.2" cy="193.8" r="13.8"/></g>
<g id="D-CBX8"><circle class="cy" cx="946.2" cy="193.4" r="13.8"/></g>
<g id="D-H4C6"><circle class="cy" cx="1021.3" cy="187.8" r="13.8"/></g>
</g>
<g id="D-labels">
<text class="lc" x="960.3" y="42.82">JARID2<tspan x="960.3" dy="5.56">(Jarid2)</tspan></text>
<text class="lc" x="935.8" y="55.8">RBBP7</text>
<text class="lc" x="955.9" y="73.92">SUZ12<tspan x="955.9" dy="5.56">(Su(z)12)</tspan></text>
<text class="lc" x="936.2" y="83.92">EED<tspan x="936.2" dy="5.56">(escl)</tspan></text>
<text class="lc" x="985.6" y="88.62">RBBP4<tspan x="985.6" dy="5.56">(Caf1-55)</tspan></text>
<text class="lc" x="947.4" y="97.32">EZH2<tspan x="947.4" dy="5.56">(E(z))</tspan></text>
<text class="lc" x="899.1" y="102.02">YAF2<tspan x="899.1" dy="5.56">(RYBP)</tspan></text>
<text class="lc" x="890.9" y="130.22">PCGF1<tspan x="890.9" dy="5.56">(Su(z)2)</tspan></text>
<text class="lc" x="920.5" y="128.02">RNF2<tspan x="920.5" dy="5.56">(Sce)</tspan></text>
<text class="lc" x="941.9" y="135.4">CBX7</text>
<text class="lc" x="918.3" y="148.72">BMI1<tspan x="918.3" dy="5.56">(Psc)</tspan></text>
<text class="lc" x="942.2" y="153.5">PHC1</text>
<text class="lc" x="907.5" y="164.1">COMMD3-BMI1</text>
<text class="lc" x="927.2" y="170.4">CBX2</text>
<text class="lc" x="955" y="173.7">PHC2</text>
<text class="lc" x="908.8" y="177.8">RING1</text>
<text class="lc" x="935" y="179.5">PCGF2</text>
<text class="lc" x="925.2" y="195.2">CBX4</text>
<text class="lc" x="946.2" y="192.02">CBX8<tspan x="946.2" dy="5.56">(Pc)</tspan></text>
<text class="lc" x="1021.3" y="189.2">H4C6</text>
</g>
</g>
</g>

<!-- ================= PANEL E (zoom of B NPC cluster) ================= -->
<g id="panel-E" clip-path="url(#clipE)">
<g transform="translate(383 -385.7) scale(1.51)">
<g id="E-edges" class="edges">
<line x1="822.8" y1="348.5" x2="745.9" y2="385.5"/>
<line x1="822.8" y1="348.5" x2="756.6" y2="395.4"/>
<line x1="822.8" y1="348.5" x2="755.6" y2="410.2"/>
<line x1="745.9" y1="385.5" x2="674.1" y2="405.9"/>
<line x1="756.6" y1="395.4" x2="674.1" y2="405.9"/>
<line x1="755.6" y1="410.2" x2="674.1" y2="405.9"/>
<line x1="745.9" y1="385.5" x2="723.1" y2="440.7"/>
<line x1="756.6" y1="395.4" x2="723.1" y2="440.7"/>
<line x1="755.6" y1="410.2" x2="723.1" y2="440.7"/>
<line x1="674.1" y1="405.9" x2="723.1" y2="440.7"/>
<line x1="674.1" y1="405.9" x2="685.2" y2="467.9"/>
<line x1="674.1" y1="405.9" x2="706.8" y2="472.8"/>
<line x1="674.1" y1="405.9" x2="651.6" y2="451.9"/>
<line x1="723.1" y1="440.7" x2="685.2" y2="467.9"/>
<line x1="723.1" y1="440.7" x2="706.8" y2="472.8"/>
<line x1="651.6" y1="451.9" x2="685.2" y2="467.9"/>
<line x1="651.6" y1="451.9" x2="693" y2="497.8"/>
<line x1="685.2" y1="467.9" x2="693" y2="497.8"/>
<line x1="706.8" y1="472.8" x2="693" y2="497.8"/>
<line x1="617" y1="415.4" x2="651.6" y2="451.9"/>
<line x1="674.1" y1="405.9" x2="616.2" y2="349.4"/>
<line x1="674.1" y1="405.9" x2="610.5" y2="362.4"/>
<line x1="674.1" y1="405.9" x2="604.2" y2="376.6"/>
<line x1="674.1" y1="405.9" x2="623.2" y2="390.7"/>
<line x1="674.1" y1="404.6" x2="623.2" y2="389.2"/>
<line x1="674.1" y1="405.9" x2="604.8" y2="397.7"/>
<line x1="674.1" y1="405.9" x2="584.4" y2="406.7"/>
<line x1="674.1" y1="405.9" x2="617" y2="415.4"/>
<line x1="674.1" y1="405.9" x2="573.8" y2="387.6"/>
<line x1="573.8" y1="387.6" x2="584.4" y2="406.7"/>
<line x1="573.8" y1="387.6" x2="604.8" y2="397.7"/>
<line x1="581.1" y1="367.6" x2="573.8" y2="387.6"/>
<line x1="584.4" y1="406.7" x2="617" y2="415.4"/>
<line x1="590.9" y1="352.9" x2="616.2" y2="349.4"/>
<line x1="584.4" y1="406.7" x2="604.8" y2="397.7"/>
</g>
<g id="E-nodes">
<g id="E-SEC13"><circle class="cy" cx="565.6" cy="324.6" r="13.8"/></g>
<g id="E-NUP37"><circle class="cy" cx="583.6" cy="321.5" r="13.8"/></g>
<g id="E-NUP133"><circle class="cy" cx="602.3" cy="331.1" r="13.8"/></g>
<g id="E-NUP160"><circle class="cy" cx="581.9" cy="337.6" r="13.8"/></g>
<g id="E-NUP43"><circle class="cy" cx="565.1" cy="350.2" r="13.8"/></g>
<g id="E-SEH1L"><circle class="cy" cx="590.9" cy="352.9" r="13.8"/></g>
<g id="E-AHCTF1"><circle class="cy" cx="616.2" cy="349.4" r="13.8"/></g>
<g id="E-NUP107"><circle class="cy" cx="610.5" cy="362.4" r="13.8"/></g>
<g id="E-NUP85"><circle class="cy" cx="581.1" cy="367.6" r="13.8"/></g>
<g id="E-NUP98"><circle class="cy" cx="604.2" cy="376.6" r="13.8"/></g>
<g id="E-NUP205"><circle class="cy" cx="573.8" cy="387.6" r="13.8"/></g>
<g id="E-NUP155"><circle class="cy" cx="623.2" cy="390.7" r="13.8"/></g>
<g id="E-NUP214"><circle class="cy" cx="604.8" cy="397.7" r="13.8"/></g>
<g id="E-NUP93"><circle class="cy" cx="584.4" cy="406.7" r="13.8"/></g>
<g id="E-NUP35"><circle class="cy" cx="617" cy="415.4" r="13.8"/></g>
<g id="E-RANBP2"><circle class="cy" cx="674.1" cy="405.9" r="13.8"/></g>
<g id="E-SUMO1"><circle class="cy" cx="745.9" cy="385.5" r="13.8"/></g>
<g id="E-SUMO2"><circle class="cy" cx="756.6" cy="395.4" r="13.8"/></g>
<g id="E-UBE2I"><circle class="cy" cx="755.6" cy="410.2" r="13.8"/></g>
<g id="E-RANGAP1"><circle class="cy" cx="723.1" cy="440.7" r="13.8"/></g>
<g id="E-KPNB1"><circle class="cy" cx="651.6" cy="451.9" r="13.8"/></g>
<g id="E-RAN"><circle class="cy" cx="685.2" cy="467.9" r="13.8"/></g>
<g id="E-RCC1"><circle class="cy" cx="706.8" cy="472.8" r="13.8"/></g>
<g id="E-RANBP1"><circle class="cy" cx="693" cy="497.8" r="13.8"/></g>
</g>
<g id="E-labels">
<text class="lc" x="565.6" y="323.22">SEC13<tspan x="565.6" dy="5.56">(SEC13)</tspan></text>
<text class="lc" x="583.6" y="320.12">NUP37<tspan x="583.6" dy="5.56">(NUP37)</tspan></text>
<text class="lc" x="602.3" y="329.72">NUP133<tspan x="602.3" dy="5.56">(NUP133)</tspan></text>
<text class="lc" x="581.9" y="336.22">NUP160<tspan x="581.9" dy="5.56">(NUP160)</tspan></text>
<text class="lc" x="565.1" y="348.82">NUP43<tspan x="565.1" dy="5.56">(NUP43)</tspan></text>
<text class="lc" x="590.9" y="351.52">SEH1L<tspan x="590.9" dy="5.56">(NUP44A)</tspan></text>
<text class="lc" x="616.2" y="348.02">AHCTF1<tspan x="616.2" dy="5.56">(Elys)</tspan></text>
<text class="lc" x="610.5" y="361.02">NUP107<tspan x="610.5" dy="5.56">(NUP107)</tspan></text>
<text class="lc" x="581.1" y="366.22">NUP85<tspan x="581.1" dy="5.56">(NUP75)</tspan></text>
<text class="lc" x="604.2" y="375.22">NUP98<tspan x="604.2" dy="5.56">(NUP98-96)</tspan></text>
<text class="lc" x="573.8" y="386.22">NUP205<tspan x="573.8" dy="5.56">(NUP205)</tspan></text>
<text class="lc" x="623.2" y="389.32">NUP155<tspan x="623.2" dy="5.56">(NUP154)</tspan></text>
<text class="lc" x="604.8" y="396.32">NUP214<tspan x="604.8" dy="5.56">(NUP214)</tspan></text>
<text class="lc" x="584.4" y="405.32">NUP93<tspan x="584.4" dy="5.56">(NUP93-1)</tspan></text>
<text class="lc" x="617" y="414.02">NUP35<tspan x="617" dy="5.56">(NUP35)</tspan></text>
<text class="lc" x="674.1" y="404.52">RANBP2<tspan x="674.1" dy="5.56">(NUP358)</tspan></text>
<text class="lc" x="745.9" y="386.9">SUMO1</text>
<text class="lc" x="756.6" y="396.8">SUMO2</text>
<text class="lc" x="755.6" y="411.6">UBE2I</text>
<text class="lc" x="723.1" y="439.32">RANGAP1<tspan x="723.1" dy="5.56">(RanGAP)</tspan></text>
<text class="lc" x="651.6" y="450.52">KPNB1<tspan x="651.6" dy="5.56">(Fs(2)Ket)</tspan></text>
<text class="lc" x="685.2" y="466.52">RAN<tspan x="685.2" dy="5.56">(RAN)</tspan></text>
<text class="lc" x="706.8" y="471.42">RCC1<tspan x="706.8" dy="5.56">(RCC1)</tspan></text>
<text class="lc" x="693" y="499.2">RANBP1</text>
</g>
</g>
</g>

<!-- ================= PANEL F (zoom of A NPC cluster) ================= -->
<g id="panel-F" clip-path="url(#clipF)">
<g transform="translate(592.8 370.6) scale(1.78)">
<g id="F-edges" class="edges">
<line x1="349" y1="76.3" x2="311" y2="127.5"/>
<line x1="349" y1="76.3" x2="359" y2="117.3"/>
<line x1="349" y1="76.3" x2="377.6" y2="104.9"/>
<line x1="311" y1="127.5" x2="359" y2="117.3"/>
<line x1="311" y1="129" x2="359" y2="119"/>
<line x1="311" y1="127.5" x2="377.6" y2="104.9"/>
<line x1="377.6" y1="104.9" x2="430.8" y2="157.4"/>
<line x1="359" y1="117.3" x2="386.1" y2="182.4"/>
<line x1="386.1" y1="182.4" x2="430.8" y2="157.4"/>
<line x1="386.1" y1="182.4" x2="440.6" y2="178.6"/>
<line x1="430.8" y1="157.4" x2="476.3" y2="144.2"/>
<line x1="476.3" y1="144.2" x2="440.6" y2="178.6"/>
<line x1="476.3" y1="144.2" x2="466.3" y2="178.6"/>
<line x1="430.8" y1="157.4" x2="414.7" y2="221.3"/>
<line x1="440.6" y1="178.6" x2="414.7" y2="221.3"/>
<line x1="466.3" y1="178.6" x2="414.7" y2="221.3"/>
<line x1="458.5" y1="201.8" x2="414.7" y2="221.3"/>
<line x1="430.8" y1="157.4" x2="466.3" y2="178.6"/>
<line x1="440.6" y1="178.6" x2="458.5" y2="201.8"/>
<line x1="386.1" y1="182.4" x2="327.3" y2="258.3"/>
<line x1="327.3" y1="258.3" x2="251.7" y2="314.8"/>
<line x1="327.3" y1="258.3" x2="326.6" y2="292.8"/>
<line x1="414.7" y1="221.3" x2="326.6" y2="292.8"/>
<line x1="222.5" y1="207.9" x2="311" y2="127.5"/>
</g>
<g id="F-nodes">
<g id="F-Nup358"><circle class="pk" cx="349" cy="76.3" r="13.3"/></g>
<g id="F-RanGAP"><circle class="pk" cx="377.6" cy="104.9" r="13.3"/></g>
<g id="F-Ran"><circle class="pk" cx="359" cy="117.3" r="13.3"/></g>
<g id="F-RCC1"><circle class="pk" cx="311" cy="127.5" r="13.3"/></g>
<g id="F-Nup93-1"><circle class="pk" cx="476.3" cy="144.2" r="13.3"/></g>
<g id="F-Nup107"><circle class="pk" cx="430.8" cy="157.4" r="13.3"/></g>
<g id="F-Nup153"><circle class="pk" cx="386.1" cy="182.4" r="13.3"/></g>
<g id="F-Nup154"><circle class="pk" cx="440.6" cy="178.6" r="13.3"/></g>
<g id="F-Nup44A"><circle class="pk" cx="466.3" cy="178.6" r="13.3"/></g>
<g id="F-Elys"><circle class="pk" cx="458.5" cy="201.8" r="13.3"/></g>
<g id="F-Nup160"><circle class="pk" cx="414.7" cy="221.3" r="13.3"/></g>
<g id="F-Lam"><circle class="pk" cx="327.3" cy="258.3" r="13.3"/></g>
</g>
<g id="F-labels">
<text class="lp" x="349" y="78.4">Nup358</text>
<text class="lp" x="377.6" y="107">RanGAP</text>
<text class="lp" x="359" y="119.4">Ran</text>
<text class="lp" x="311" y="129.6">RCC1</text>
<text class="lp" x="476.3" y="146.3">Nup93-1</text>
<text class="lp" x="430.8" y="159.5">Nup107</text>
<text class="lp" x="386.1" y="184.5">Nup153</text>
<text class="lp" x="440.6" y="180.7">Nup154</text>
<text class="lp" x="466.3" y="180.7">Nup44A</text>
<text class="lp" x="458.5" y="203.9">Elys</text>
<text class="lp" x="414.7" y="223.4">Nup160</text>
<text class="lp" x="327.3" y="260.4">Lam</text>
</g>
</g>
</g>

<!-- ================= Cluster outlines ================= -->
<g id="outlines" class="ring">
<ellipse class="blue" cx="110.2" cy="148.8" rx="92.7" ry="100.2" stroke-width="3.8"/>
<ellipse class="mag" cx="353.3" cy="136" rx="65.1" ry="87.7" stroke-width="3.5"/>
<ellipse class="red" cx="441.4" cy="183.9" rx="86" ry="64" stroke-width="3.5" transform="rotate(-49 441.4 183.9)"/>
<ellipse class="blue" cx="940" cy="114.8" rx="71.7" ry="97.3" stroke-width="3.5"/>
<ellipse class="red" cx="618" cy="368.2" rx="88.3" ry="68.5" stroke-width="3.5" transform="rotate(15.5 618 368.2)"/>
<ellipse class="mag" cx="689" cy="444.5" rx="54.2" ry="76.9" stroke-width="3.5" transform="rotate(13.6 689 444.5)"/>
<ellipse class="blue" cx="200.9" cy="702.8" rx="123.4" ry="133.3" stroke-width="5.5"/>
<ellipse class="blue" cx="571" cy="712.75" rx="111.2" ry="149.2" stroke-width="5.6"/>
<ellipse class="red" cx="1315.9" cy="171.4" rx="133.7" ry="101.1" stroke-width="6" transform="rotate(17 1315.9 171.4)"/>
<ellipse class="mag" cx="1420" cy="286.3" rx="86" ry="116" stroke-width="6" transform="rotate(5 1420 286.3)"/>
<ellipse class="mag" cx="1220.8" cy="613" rx="114.7" ry="156.5" stroke-width="7"/>
<ellipse class="red" cx="1377.8" cy="697.2" rx="153.5" ry="113.5" stroke-width="7" transform="rotate(-50 1377.8 697.2)"/>
</g>

<!-- ================= Panel letters ================= -->
<g id="panel-letters">
<text class="pl" x="8" y="45">(A)</text>
<text class="pl" x="599.5" y="38">(B)</text>
<text class="pl" x="8" y="608.5">(C)</text>
<text class="pl" x="415.5" y="612">(D)</text>
<text class="pl" x="1181.5" y="57">(E)</text>
<text class="pl" x="1047.5" y="488">(F)</text>
</g>
</g>
</svg>
